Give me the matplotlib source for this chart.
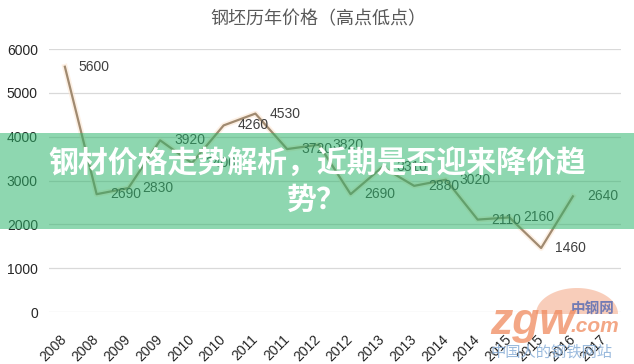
import numpy as np
import matplotlib.pyplot as plt
from matplotlib.patches import Rectangle, Polygon

plt.rcParams['font.family'] = ['Liberation Sans', 'Noto Sans CJK SC', 'DejaVu Sans']

# 数据
years = ['2008', '2008', '2009', '2009', '2010', '2010', '2011', '2011', '2012',
         '2012', '2013', '2013', '2014', '2014', '2015', '2015', '2016', '2017']
prices = [5600, 2690, 2830, 3920, 3400, 4260, 4530, 3720, 3820,
          2690, 3310, 2880, 3020, 2110, 2160, 1460, 2640]
y_ticks = [0, 1000, 2000, 3000, 4000, 5000, 6000]
title = '钢坯历年价格（高点低点）'
banner_lines = ['钢材价格走势解析，近期是否迎来降价趋', '势？']

W, H = 634, 364
fig = plt.figure(figsize=(W / 100, H / 100), dpi=100)
ax = fig.add_axes([49 / W, 52 / H, 571.5 / W, 262.8 / H])

x = np.arange(len(prices))
# 发光效果 + 折线
ax.plot(x, prices, color='#FCE6D2', lw=4, alpha=0.6, solid_joinstyle='round', zorder=2)
ax.plot(x, prices, color='#A08A70', lw=1.6, zorder=3)
for i, v in enumerate(prices):
    ax.annotate(str(v), (i, v), xytext=(10, 0), textcoords='offset points',
                ha='left', va='center', fontsize=10, color='#404040')

ax.set_xlim(-0.5, len(years) - 0.5)
ax.set_ylim(0, 6000)
ax.set_yticks(y_ticks)
ax.set_xticks(range(len(years)))
ax.set_xticklabels(years, rotation=45, ha='right', va='center', rotation_mode='anchor')
ax.yaxis.grid(True, color='#D9D9D9', lw=0.9)
ax.set_axisbelow(True)
for s in ax.spines.values():
    s.set_visible(False)
ax.tick_params(length=0, labelsize=10, labelcolor='#262626')
ax.tick_params(axis='y', pad=8)
ax.tick_params(axis='x', pad=18)

fig.text(318 / W, 1 - 19 / H, title, ha='center', va='center', fontsize=13,
         color='#595959', family=['Noto Sans CJK SC', 'DejaVu Sans'])

# 覆盖层：横幅和水印，像素坐标
ov = fig.add_axes([0, 0, 1, 1])
ov.set_xlim(0, W)
ov.set_ylim(H, 0)
ov.axis('off')

ov.add_patch(Rectangle((0, 133), W, 96, color='#2BB56A', alpha=0.53, lw=0))
ov.text(W / 2, 163, banner_lines[0], ha='center', va='center', fontsize=21.5,
        weight='bold', color='white', family=['Noto Sans CJK SC', 'DejaVu Sans'])
ov.text(W / 2, 200, banner_lines[1], ha='center', va='center', fontsize=21.5,
        weight='bold', color='white', family=['Noto Sans CJK SC', 'DejaVu Sans'])

# 水印 zgw.com
t = np.linspace(0, np.pi, 60)
dome = np.column_stack([577 + 41 * np.cos(t), 314 - 26 * np.sin(t)])
ov.add_patch(Polygon(dome, closed=True, color='#F4A582', alpha=0.55, lw=0))
ov.text(490, 334, 'zgw', fontsize=32, weight='bold', style='italic',
        color='#F08A5D', alpha=0.75, ha='left', va='baseline')
ov.text(593, 308, '中钢网', fontsize=10.5, weight='bold', color='#5B6DB3', alpha=0.85,
        ha='center', va='center', family=['Noto Sans CJK SC', 'DejaVu Sans'])
ov.text(595, 326, '.com', fontsize=15, weight='bold', style='italic',
        color='#F08A5D', alpha=0.75, ha='center', va='center')
ov.text(552, 352, '中国人的钢铁网站', fontsize=11, color='#8AAFD8', alpha=0.85,
        ha='center', va='center', family=['Noto Sans CJK SC', 'DejaVu Sans'])

fig.savefig('out.png', dpi=100)
